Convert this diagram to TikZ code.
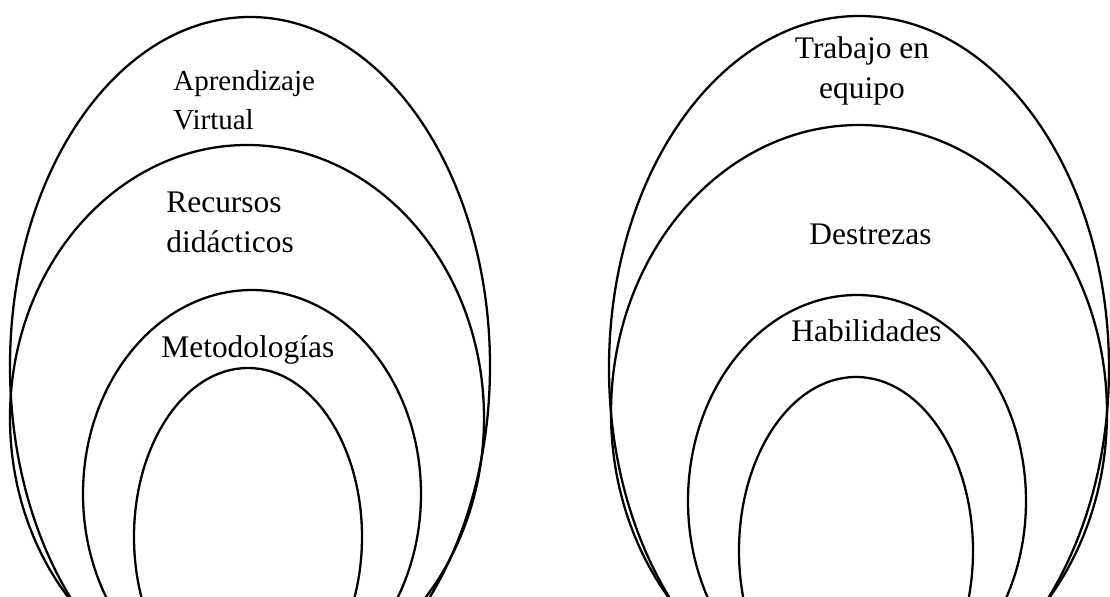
\documentclass[tikz,border=0pt]{standalone}
\usepackage{fontspec}
\setmainfont{Liberation Serif}

\tikzset{
  ring/.style={line width=1.3pt},
  tag/.style={inner sep=0pt, font=\fontsize{17.9}{23.2}\selectfont},
  smalltag/.style={inner sep=0pt, font=\fontsize{16.5}{22.7}\selectfont}
}

\begin{document}
\begin{tikzpicture}[x=0.02cm,y=0.02cm]
\useasboundingbox (0,0) rectangle (1110,596);
\clip (0,0) rectangle (1110,596);

% left rings
\draw[ring] (250,230) ellipse (240 and 349);
\draw[ring] (247,178) ellipse (237 and 273);
\draw[ring] (252,102) ellipse (169 and 204);
\draw[ring] (248,59) ellipse (114 and 169);

% right rings
\draw[ring] (859,228) ellipse (250 and 352);
\draw[ring] (859,183) ellipse (248 and 288);
\draw[ring] (857,95) ellipse (169 and 206);
\draw[ring] (856,45) ellipse (117 and 174);

% labels (base = last line)
\node[smalltag, align=left, anchor=base west] (virtual) at (173,466) {Aprendizaje\\Virtual};
\node[tag, align=left, anchor=base west] (recursos) at (166,343) {Recursos\\didácticos};
\node[tag, anchor=base west] (metodo) at (161,238) {Metodologías};

\node[tag, align=center, anchor=base] (equipo) at (862,497) {Trabajo en\\equipo};
\node[tag, anchor=base west] (destrezas) at (809,352) {Destrezas};
\node[tag, anchor=base west] (habilidades) at (791,255) {Habilidades};
\end{tikzpicture}
\end{document}
